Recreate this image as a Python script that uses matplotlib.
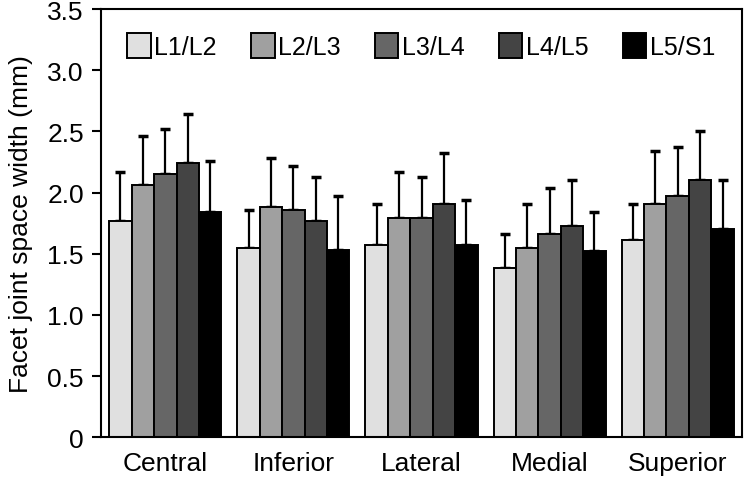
import numpy as np
import matplotlib
matplotlib.use("Agg")
import matplotlib.pyplot as plt

plt.rcParams["font.family"] = ["Liberation Sans", "DejaVu Sans"]

regions = ["Central", "Inferior", "Lateral", "Medial", "Superior"]
levels = ["L1/L2", "L2/L3", "L3/L4", "L4/L5", "L5/S1"]
colors = ["#e0e0e0", "#a0a0a0", "#666666", "#444444", "#000000"]

# mean width per level, one value per region (Central..Superior)
means = {
    "L1/L2": [1.77, 1.55, 1.57, 1.38, 1.61],
    "L2/L3": [2.06, 1.88, 1.79, 1.55, 1.91],
    "L3/L4": [2.15, 1.86, 1.79, 1.66, 1.97],
    "L4/L5": [2.24, 1.77, 1.91, 1.73, 2.10],
    "L5/S1": [1.84, 1.53, 1.57, 1.52, 1.70],
}
# standard deviations (upper error bar only)
sds = {
    "L1/L2": [0.40, 0.31, 0.34, 0.28, 0.30],
    "L2/L3": [0.40, 0.40, 0.38, 0.36, 0.43],
    "L3/L4": [0.37, 0.36, 0.34, 0.38, 0.40],
    "L4/L5": [0.40, 0.36, 0.41, 0.37, 0.40],
    "L5/S1": [0.42, 0.44, 0.37, 0.32, 0.40],
}

x = np.arange(len(regions))
w = 0.175

fig, ax = plt.subplots(figsize=(7.5, 4.81), dpi=100)
fig.subplots_adjust(left=0.135, right=0.989, top=0.979, bottom=0.089)

for i, lev in enumerate(levels):
    pos = x + (i - 2) * w
    m = np.array(means[lev])
    s = np.array(sds[lev])
    ax.errorbar(pos, m, yerr=[np.zeros_like(s), s], fmt="none",
                ecolor="black", elinewidth=1.6, capsize=3.5, capthick=2.5, zorder=1)
    ax.bar(pos, m, width=w, color=colors[i], edgecolor="black",
           linewidth=1.4, label=lev, zorder=2)

ax.set_xlim(-0.5, 4.5)
ax.set_ylim(0, 3.5)
ax.set_yticks([0, 0.5, 1.0, 1.5, 2.0, 2.5, 3.0, 3.5])
ax.set_yticklabels(["0", "0.5", "1.0", "1.5", "2.0", "2.5", "3.0", "3.5"])
ax.set_xticks(x)
ax.set_xticklabels(regions)
ax.tick_params(axis="x", length=0, pad=10, labelsize=19)
ax.tick_params(axis="y", length=6.5, width=1.5, pad=6, labelsize=19)
ax.set_ylabel("Facet joint space width (mm)", fontsize=19, labelpad=10)
for sp in ax.spines.values():
    sp.set_linewidth(1.5)

ax.legend(loc="center left", bbox_to_anchor=(127 / 750, 1 - 47 / 481),
          bbox_transform=fig.transFigure, ncol=5, frameon=False,
          fontsize=18, borderpad=0, borderaxespad=0,
          handlelength=0.95, handleheight=1.15, handletextpad=0.15,
          columnspacing=1.35)

fig.savefig("out.png", dpi=100)
